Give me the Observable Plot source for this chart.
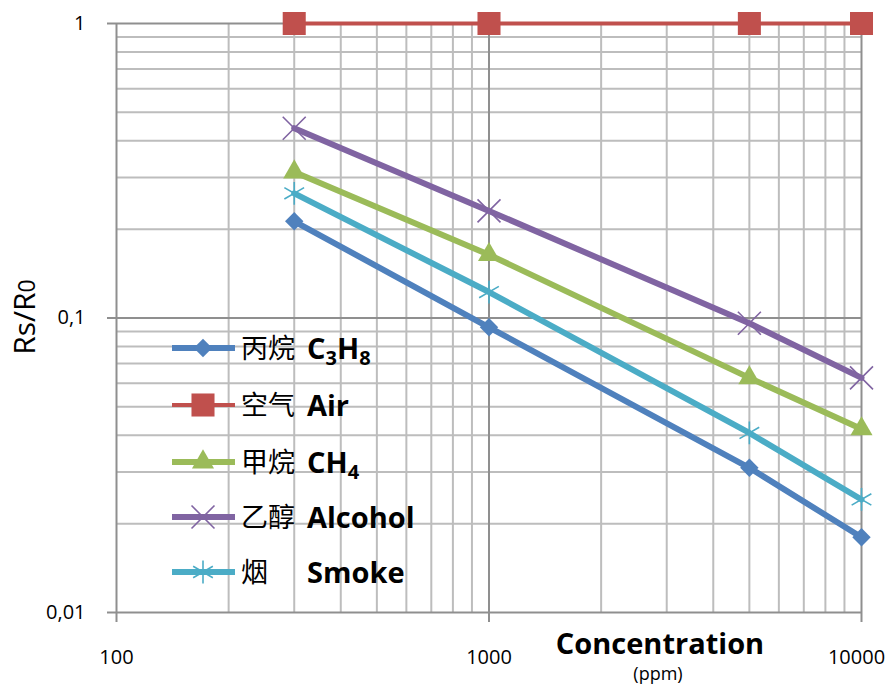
<!DOCTYPE html>
<html>
<head>
<meta charset="utf-8">
<script src="https://cdn.jsdelivr.net/npm/d3@7"></script>
<script src="https://cdn.jsdelivr.net/npm/@observablehq/plot@0.6"></script>
<style>
  html, body { margin: 0; padding: 0; background: #fff; }
  #wrap { position: relative; width: 889px; height: 688px; }
  #overlay { position: absolute; left: 0; top: 0; pointer-events: none; }
</style>
</head>
<body>
<div id="wrap"></div>
<script>
// ---- data ----
const conc = [300, 1000, 5000, 10000];
const c3h8 = [0.213, 0.093, 0.031, 0.018];
const air = [1, 1, 1, 1];
const ch4 = [0.313, 0.164, 0.0626, 0.042];
const alcohol = [0.441, 0.231, 0.096, 0.0626];
const smoke = [0.265, 0.1225, 0.0407, 0.0242];

const seriesKeys = ["C3H8", "Air", "CH4", "Alcohol", "Smoke"];
const seriesCn = ["丙烷", "空气", "甲烷", "乙醇", "烟"];
const seriesValues = [c3h8, air, ch4, alcohol, smoke];

const xTicks = [100, 1000, 10000];
const xTickLabels = ["100", "1000", "10000"];
const yTicks = [0.01, 0.1, 1];
const yTickLabels = ["0,01", "0,1", "1"];
const xMinor = [200, 300, 400, 500, 600, 700, 800, 900, 2000, 3000, 4000, 5000, 6000, 7000, 8000, 9000];
const yMinor = [0.02, 0.03, 0.04, 0.05, 0.06, 0.07, 0.08, 0.09, 0.2, 0.3, 0.4, 0.5, 0.6, 0.7, 0.8, 0.9];

// ---- styles ----
const colors = {C3H8: "#4F81BD", Air: "#C0504D", CH4: "#9BBB59", Alcohol: "#8064A2", Smoke: "#4BACC6"};
const symbols = {C3H8: "diamond2", Air: "square", CH4: "triangle", Alcohol: "times", Smoke: "asterisk"};
const radii = {C3H8: 8.3, Air: 13, CH4: 8.2, Alcohol: 10.5, Smoke: 10.8};
const filled = {C3H8: true, Air: true, CH4: true, Alcohol: false, Smoke: false};
const lineW = {C3H8: 6, Air: 4, CH4: 6, Alcohol: 6, Smoke: 6};

const rows = [];
seriesKeys.forEach((k, i) => conc.forEach((c, j) => rows.push({series: k, x: c, y: seriesValues[i][j]})));

const gridMinor = "#bdbdbd";
const gridMajor = "#8f8f8f";
const lastX = xTicks[xTicks.length - 1];

const marks = [
  Plot.ruleX(xMinor, {stroke: gridMinor, strokeWidth: 2}),
  Plot.ruleY(yMinor, {stroke: gridMinor, strokeWidth: 2}),
  Plot.ruleX(xTicks, {stroke: gridMajor, strokeWidth: 2}),
  Plot.ruleY(yTicks, {stroke: gridMajor, strokeWidth: 2}),
  Plot.axisX(xTicks, {tickSize: 10, tickPadding: 27, stroke: gridMajor, strokeWidth: 2, fill: "black",
    tickFormat: d => d === lastX ? "" : xTickLabels[xTicks.indexOf(d)], fontSize: 20, label: null}),
  Plot.axisX([lastX], {tickSize: 10, tickPadding: 27, stroke: "none", fill: "black",
    tickFormat: d => xTickLabels[xTicks.indexOf(d)], fontSize: 20, label: null, dx: -5}),
  Plot.axisY(yTicks, {tickSize: 9, tickPadding: 22, stroke: gridMajor, strokeWidth: 2, fill: "black",
    tickFormat: d => yTickLabels[yTicks.indexOf(d)], fontSize: 20, label: null})
];
for (const k of seriesKeys) {
  const d = rows.filter(r => r.series === k);
  marks.push(Plot.line(d, {x: "x", y: "y", stroke: colors[k], strokeWidth: lineW[k]}));
}
for (const k of seriesKeys) {
  const d = rows.filter(r => r.series === k);
  marks.push(Plot.dot(d, {x: "x", y: "y", symbol: () => symbols[k], r: radii[k],
    fill: filled[k] ? colors[k] : "none", stroke: colors[k], strokeWidth: filled[k] ? 0 : 1.6}));
}

const chart = Plot.plot({
  width: 889, height: 688,
  marginLeft: 116, marginRight: 28, marginTop: 23, marginBottom: 76,
  style: {fontFamily: "'Open Sans', sans-serif", fontSize: "20px", color: "black", background: "white"},
  x: {type: "log", domain: [100, 10000]},
  y: {type: "log", domain: [0.01, 1]},
  symbol: {type: "identity"},
  marks
});
document.getElementById("wrap").appendChild(chart);

// ---- overlay: axis titles & legend ----
const svg = d3.select("#wrap").append("svg").attr("id", "overlay")
  .attr("width", 889).attr("height", 688);

const yl = svg.append("text").attr("transform", "translate(35,317) rotate(-90)")
  .attr("text-anchor", "middle").attr("font-family", "'Open Sans', sans-serif")
  .attr("font-size", 30).attr("fill", "black");
yl.append("tspan").text("Rs/R");
yl.append("tspan").attr("font-size", 23).text("0");

svg.append("text").attr("x", 660).attr("y", 654).attr("text-anchor", "middle")
  .attr("font-family", "'Open Sans', sans-serif").attr("font-weight", "bold").attr("font-size", 29)
  .attr("fill", "black").text("Concentration");
svg.append("text").attr("x", 658).attr("y", 680).attr("text-anchor", "middle")
  .attr("font-family", "'Open Sans', sans-serif").attr("font-size", 18)
  .attr("fill", "black").text("(ppm)");

const legY = [348, 405, 462, 517, 572];
const latinParts = [
  [["C", 0], ["3", 1], ["H", 0], ["8", 1]],
  [["Air", 0]],
  [["CH", 0], ["4", 1]],
  [["Alcohol", 0]],
  [["Smoke", 0]]
];
const symMap = {diamond2: d3.symbolDiamond2, square: d3.symbolSquare, triangle: d3.symbolTriangle,
  times: d3.symbolTimes, asterisk: d3.symbolAsterisk};
seriesKeys.forEach((k, i) => {
  const g = svg.append("g").attr("transform", `translate(0,${legY[i]})`);
  g.append("line").attr("x1", 172).attr("x2", 235).attr("y1", 0).attr("y2", 0)
    .attr("stroke", colors[k]).attr("stroke-width", lineW[k]);
  const size = Math.PI * radii[k] * radii[k];
  g.append("path").attr("transform", "translate(203,0)")
    .attr("d", d3.symbol(symMap[symbols[k]], size)())
    .attr("fill", filled[k] ? colors[k] : "none").attr("stroke", filled[k] ? "none" : colors[k])
    .attr("stroke-width", 1.6);
  g.append("text").attr("x", 241).attr("y", 10).attr("font-family", "'Noto Sans CJK SC', sans-serif")
    .attr("font-size", 27).attr("fill", "black").text(seriesCn[i]);
  const t = g.append("text").attr("x", 307).attr("y", 11).attr("font-family", "'Open Sans', sans-serif")
    .attr("font-weight", "bold").attr("font-size", 29).attr("fill", "black");
  for (const [s, sub] of latinParts[i]) {
    const ts = t.append("tspan").text(s);
    if (sub) ts.attr("font-size", 20).attr("dy", 6);
    else if (t.selectAll("tspan").size() > 1) ts.attr("dy", -6);
  }
});
</script>
</body>
</html>
